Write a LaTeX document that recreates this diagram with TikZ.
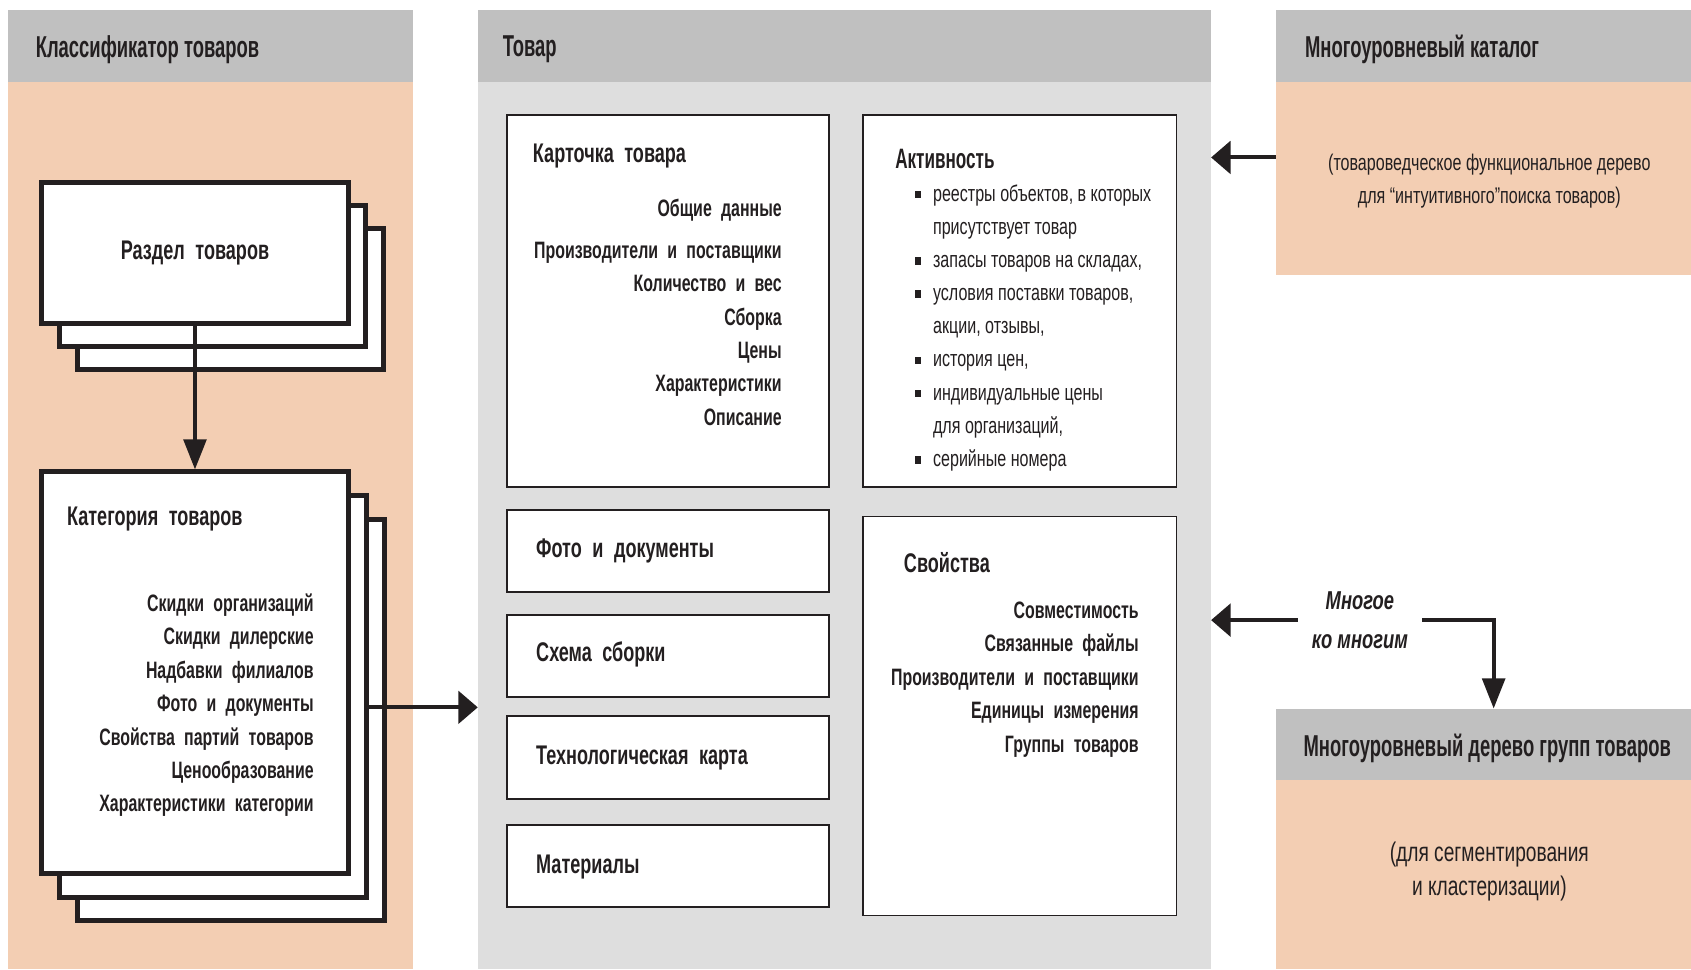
\documentclass[tikz,border=0pt]{standalone}
\usepackage{fontspec}
\setmainfont{Liberation Sans}[FakeStretch=0.71]
\newfontfamily\widefont{Liberation Sans}[FakeStretch=0.67, WordSpace=2.1]
\newfontfamily\hdrfont{Liberation Sans}[FakeStretch=0.61]
\usetikzlibrary{arrows.meta}
\definecolor{hdr}{RGB}{192,192,192}
\definecolor{peach}{RGB}{243,206,179}
\definecolor{lgray}{RGB}{222,222,222}
\definecolor{ink}{RGB}{35,31,32}
\newcommand\bul{\llap{\rule[2.5pt]{5.5pt}{7pt}\hspace{11pt}}}
\tikzset{
  panel/.style={rectangle, anchor=north west, inner sep=0pt, outer sep=0pt, draw=none},
  thickbox/.style={rectangle, anchor=north west, inner sep=0pt, draw=ink, fill=white, line width=4.6pt},
  thinbox/.style={rectangle, anchor=north west, inner sep=0pt, draw=ink, fill=white, line width=1.8pt},
  lbl/.style={inner sep=0pt, text=ink},
  hdrtext/.style={lbl, anchor=west, font=\hdrfont\fontsize{28}{30}\selectfont\bfseries},
  titletext/.style={lbl, font=\widefont\fontsize{25}{30}\selectfont\bfseries},
  itemtext/.style={lbl, align=right, font=\widefont\fontsize{22}{31}\selectfont\bfseries},
  regtext/.style={lbl, font=\fontsize{21}{30.75}\selectfont},
  arrh/.style={draw=ink, line width=3.7pt, -{Triangle[length=18pt,width=30pt]}},
  arrv/.style={draw=ink, line width=3.7pt, -{Triangle[length=28pt,width=21pt]}}
}
\begin{document}
\begin{tikzpicture}[x=1pt,y=-1pt]
\useasboundingbox (0,0) rectangle (1568,898.6);
% ---------- panels ----------
\node[panel, fill=peach, minimum width=376pt, minimum height=889.6pt] (lpb) at (7,9) {};
\node[panel, fill=hdr, minimum width=376pt, minimum height=67pt] (lph) at (7,9) {};
\node[panel, fill=lgray, minimum width=680pt, minimum height=889.6pt] (mid) at (443,9) {};
\node[panel, fill=hdr, minimum width=680pt, minimum height=67pt] (midh) at (443,9) {};
\node[panel, fill=peach, minimum width=385pt, minimum height=246pt] (cat) at (1183,9) {};
\node[panel, fill=hdr, minimum width=385pt, minimum height=67pt] (cath) at (1183,9) {};
\node[panel, fill=peach, minimum width=385pt, minimum height=241.6pt] (grp) at (1183,657) {};
\node[panel, fill=hdr, minimum width=385pt, minimum height=66pt] (grph) at (1183,657) {};
% header texts
\node[hdrtext] (t1) at (33,46) {Классификатор товаров};
\node[hdrtext] (t2) at (466,46) {Товар};
\node[hdrtext] (t3) at (1210,46) {Многоуровневый каталог};
\node[lbl, font=\hdrfont\fontsize{28}{30}\selectfont\bfseries] (t4) at (1379,694) {Многоуровневый дерево групп товаров};
\node[regtext, align=center] (t5) at (1381,168) {(товароведческое функциональное дерево\\для “интуитивного”поиска товаров)};
\node[lbl, align=center, font=\fontsize{25}{31}\selectfont] (t6) at (1381,808) {(для сегментирования\\и кластеризации)};
% ---------- left stacks ----------
\node[thickbox, minimum width=284pt, minimum height=131pt] (r3) at (69.5,209.5) {};
\node[thickbox, minimum width=284pt, minimum height=131pt] (r2) at (53,188) {};
\node[thickbox, minimum width=284pt, minimum height=131pt] (r1) at (36.5,166.5) {};
\node[titletext] (rt) at (r1.center) {Раздел товаров};
\node[thickbox, minimum width=284pt, minimum height=372pt] (k3) at (70,479) {};
\node[thickbox, minimum width=284pt, minimum height=372pt] (k2) at (53.2,457.6) {};
\node[thickbox, minimum width=284pt, minimum height=372pt] (k1) at (36.5,435.3) {};
\node[titletext, anchor=west] (kt) at (62,481) {Категория товаров};
\node[itemtext, anchor=east] (ki) at (291,654) {Скидки организаций\\Скидки дилерские\\Надбавки филиалов\\Фото и документы\\Свойства партий товаров\\Ценообразование\\Характеристики категории};
% ---------- middle boxes ----------
\node[thinbox, minimum width=299pt, minimum height=345pt] (card) at (469,106) {};
\node[titletext, anchor=west] (cardt) at (494,145) {Карточка товара};
\node[itemtext, anchor=east] (cardi1) at (725,195) {Общие данные};
\node[itemtext, anchor=east] (cardi2) at (725,309.5) {Производители и поставщики\\Количество и вес\\Сборка\\Цены\\Характеристики\\Описание};
\node[thinbox, minimum width=291pt, minimum height=345pt] (act) at (799,106) {};
\node[lbl, anchor=west, font=\hdrfont\fontsize{26}{30}\selectfont\bfseries] (actt) at (830,147) {Активность};
\node[regtext, anchor=west, align=left] (acti) at (865,304) {\bul реестры объектов, в которых\\присутствует товар\\\bul запасы товаров на складах,\\\bul условия поставки товаров,\\акции, отзывы,\\\bul история цен,\\\bul индивидуальные цены\\для организаций,\\\bul серийные номера};
\node[thinbox, minimum width=299pt, minimum height=76pt] (foto) at (469,472) {};
\node[titletext, anchor=west] (fotot) at (497,511) {Фото и документы};
\node[thinbox, minimum width=299pt, minimum height=76pt] (schema) at (469,569) {};
\node[titletext, anchor=west] (schemat) at (497,607) {Схема сборки};
\node[thinbox, minimum width=299pt, minimum height=77pt] (tech) at (469,663) {};
\node[titletext, anchor=west] (techt) at (497,703) {Технологическая карта};
\node[thinbox, minimum width=299pt, minimum height=76pt] (mat) at (469,764) {};
\node[titletext, anchor=west] (matt) at (497,804) {Материалы};
\node[thinbox, minimum width=291pt, minimum height=370pt] (prop) at (799,478) {};
\node[titletext, anchor=west] (propt) at (838,522) {Свойства};
\node[itemtext, anchor=east] (propi) at (1056,630) {Совместимость\\Связанные файлы\\Производители и поставщики\\Единицы измерения\\Группы товаров};
% ---------- connectors ----------
\draw[arrv] (r1.south) -- (k1.north);
\coordinate (ka) at ([yshift=-10pt]k2.east);
\draw[arrh] (ka) -- (ka -| mid.west);
\coordinate (ca) at (1183,146);
\draw[arrh] (ca) -- (ca -| mid.east);
\node[lbl, align=center, inner xsep=13pt, font=\fontsize{24}{36}\selectfont\bfseries\itshape] (mm) at (1261,575) {Многое\\ко многим};
\draw[arrh] (mm.west) -- (mm.west -| mid.east);
\coordinate (ga) at (1385,657);
\draw[arrv] (mm.east) -| (ga);
\end{tikzpicture}
\end{document}
